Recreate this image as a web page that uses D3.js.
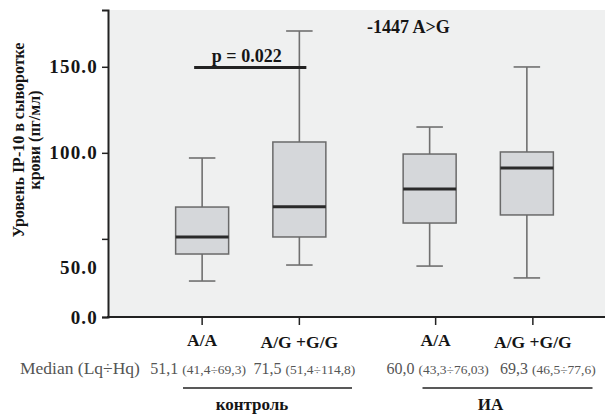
<!DOCTYPE html>
<html>
<head>
<meta charset="utf-8">
<script src="https://cdn.jsdelivr.net/npm/d3@7"></script>
<style>
  body { margin: 0; background: #fff; }
  svg text { font-family: "Liberation Serif", "Times New Roman", serif; }
</style>
</head>
<body>
<div id="chart"></div>
<script>
const groups = ["контроль", "ИА"];
const genotypes = ["A/A", "A/G +G/G"];

// one entry per box: контроль A/A, контроль A/G+G/G, ИА A/A, ИА A/G+G/G
const lowWhisker = [25.5, 34.8, 34.2, 27.3];
const q1 = [41.2, 51.1, 59.2, 63.9];
const medians = [51.1, 68.7, 79.0, 91.2];
const q3 = [68.5, 106.3, 99.3, 100.5];
const highWhisker = [97.0, 170.8, 115.0, 149.9];

const medianLabels = ["51,1", "71,5", "60,0", "69,3"];
const rangeLabels = ["(41,4÷69,3)", "(51,4÷114,8)", "(43,3÷76,03)", "(46,5÷77,6)"];

const yTicks = [50, 100, 150];
const yDomain = [4.6, 183];

const boxes = lowWhisker.map((d, i) => ({
  group: groups[Math.floor(i / 2)],
  genotype: genotypes[i % 2],
  low: d, q1: q1[i], median: medians[i], q3: q3[i], high: highWhisker[i],
  medianLabel: medianLabels[i], rangeLabel: rangeLabels[i]
}));

const width = 605, height = 414;
const plotLeft = 108, plotTop = 10, plotBottom = 317;
const boxWidth = 53;
const serif = "'Liberation Serif', 'Times New Roman', serif";
const ink = "#151515";
const iaShift = [0, 6]; // ticks and labels of the second group sit a bit right of the boxes
const medRowShift = [-4, 5, 8, 21];

const svg = d3.select("#chart").append("svg")
  .attr("width", width)
  .attr("height", height);

const y = d3.scaleLinear().domain(yDomain).range([plotBottom, plotTop]);

const outer = d3.scaleBand().domain(groups).range([137, 592]);
const inner = d3.scalePoint().domain(genotypes).range([0, outer.bandwidth()]).padding(0.67);
const xc = d => outer(d.group) + inner(d.genotype);

// plot background
svg.append("rect")
  .attr("x", plotLeft).attr("y", plotTop)
  .attr("width", width - plotLeft).attr("height", plotBottom - plotTop)
  .attr("fill", "#eff0f0");

// boxes
const box = svg.append("g").selectAll("g.box").data(boxes).enter().append("g").attr("class", "box");

box.append("line")
  .attr("x1", xc).attr("x2", xc)
  .attr("y1", d => y(d.high)).attr("y2", d => y(d.q3))
  .attr("stroke", "#707070").attr("stroke-width", 1.6);
box.append("line")
  .attr("x1", xc).attr("x2", xc)
  .attr("y1", d => y(d.q1)).attr("y2", d => y(d.low))
  .attr("stroke", "#707070").attr("stroke-width", 1.6);
box.append("line")
  .attr("x1", d => xc(d) - boxWidth / 4).attr("x2", d => xc(d) + boxWidth / 4)
  .attr("y1", d => y(d.high)).attr("y2", d => y(d.high))
  .attr("stroke", "#707070").attr("stroke-width", 1.6);
box.append("line")
  .attr("x1", d => xc(d) - boxWidth / 4).attr("x2", d => xc(d) + boxWidth / 4)
  .attr("y1", d => y(d.low)).attr("y2", d => y(d.low))
  .attr("stroke", "#707070").attr("stroke-width", 1.6);
box.append("rect")
  .attr("x", d => xc(d) - boxWidth / 2)
  .attr("y", d => y(d.q3))
  .attr("width", boxWidth)
  .attr("height", d => y(d.q1) - y(d.q3))
  .attr("fill", "#d5d7da")
  .attr("stroke", "#6a6a6a").attr("stroke-width", 1.5);
box.append("line")
  .attr("x1", d => xc(d) - boxWidth / 2).attr("x2", d => xc(d) + boxWidth / 2)
  .attr("y1", d => y(d.median)).attr("y2", d => y(d.median))
  .attr("stroke", "#2a2a2a").attr("stroke-width", 3);

// y axis
const yAxis = d3.axisLeft(y)
  .tickValues([yDomain[0]].concat(yTicks))
  .tickSize(6)
  .tickFormat(v => v === yDomain[0] ? "0.0" : v === 50 ? "" : d3.format(".1f")(v));

const ya = svg.append("g").attr("transform", `translate(${plotLeft},0)`).call(yAxis);
ya.attr("font-family", serif);
ya.select(".domain").attr("stroke", "#222").attr("stroke-width", 2);
ya.selectAll(".tick line").attr("stroke", "#222").attr("stroke-width", 1.5);
ya.selectAll(".tick text")
  .attr("x", -10)
  .attr("font-size", 19).attr("font-weight", "bold").attr("fill", ink)
  .attr("letter-spacing", 1.2)
  .attr("font-family", serif);

// the "50.0" label sits below its tick in the original
svg.append("text")
  .attr("x", plotLeft - 10).attr("y", y(50) + 29).attr("dy", "0.32em")
  .attr("text-anchor", "end")
  .attr("font-family", serif)
  .attr("font-size", 19).attr("font-weight", "bold").attr("fill", ink)
  .attr("letter-spacing", 1.2)
  .text("50.0");

// x axis
svg.append("line")
  .attr("x1", plotLeft - 1).attr("x2", width)
  .attr("y1", plotBottom).attr("y2", plotBottom)
  .attr("stroke", "#222").attr("stroke-width", 2);

const tickX = d => xc(d) + iaShift[groups.indexOf(d.group)];

svg.selectAll("line.xtick").data(boxes).enter().append("line")
  .attr("class", "xtick")
  .attr("x1", tickX).attr("x2", tickX)
  .attr("y1", plotBottom).attr("y2", plotBottom + 8)
  .attr("stroke", "#222").attr("stroke-width", 1.5);

svg.selectAll("text.cat").data(boxes).enter().append("text")
  .attr("class", "cat")
  .attr("x", tickX).attr("y", d => d.genotype === genotypes[0] ? 346 : 348)
  .attr("text-anchor", "middle")
  .attr("font-family", serif)
  .attr("font-size", 17.5).attr("font-weight", "bold").attr("fill", ink)
  .text(d => d.genotype);

// y axis title
const title = svg.append("text")
  .attr("transform", "translate(0,140) rotate(-90)")
  .attr("text-anchor", "middle")
  .attr("font-family", serif)
  .attr("font-size", 16).attr("font-weight", "bold").attr("fill", ink);
title.append("tspan").attr("x", 0).attr("y", 24).text("Уровень IP-10 в сыворотке");
title.append("tspan").attr("x", 0).attr("y", 40).text("крови (пг/мл)");

// significance bar
svg.append("line")
  .attr("x1", xc(boxes[0]) - 8).attr("x2", xc(boxes[1]) + 7)
  .attr("y1", y(149.6)).attr("y2", y(149.6))
  .attr("stroke", "#222").attr("stroke-width", 3);
svg.append("text")
  .attr("x", (xc(boxes[0]) + xc(boxes[1])) / 2 - 4).attr("y", 62)
  .attr("text-anchor", "middle")
  .attr("font-family", serif)
  .attr("font-size", 18).attr("font-weight", "bold").attr("fill", ink)
  .text("p = 0.022");

svg.append("text")
  .attr("x", 367).attr("y", 33)
  .attr("font-family", serif)
  .attr("font-size", 18).attr("font-weight", "bold").attr("fill", ink)
  .text("-1447 A>G");

// median row
svg.append("text")
  .attr("x", 20).attr("y", 374)
  .attr("font-family", serif)
  .attr("font-size", 17.5).attr("fill", "#555")
  .text("Median (Lq÷Hq)");

const mt = svg.selectAll("text.med").data(boxes).enter().append("text")
  .attr("class", "med")
  .attr("x", (d, i) => xc(d) + medRowShift[i]).attr("y", 374)
  .attr("text-anchor", "middle")
  .attr("font-family", serif)
  .attr("fill", "#555");
mt.append("tspan").attr("font-size", 16).text(d => d.medianLabel + " ");
mt.append("tspan").attr("font-size", 13.5).text(d => d.rangeLabel);

// group brackets
svg.selectAll("line.grp").data(groups).enter().append("line")
  .attr("class", "grp")
  .attr("x1", (d, i) => outer(d) + 46 + 12 * i).attr("x2", (d, i) => outer(d) + 215 + 13 * i)
  .attr("y1", 388).attr("y2", 388)
  .attr("stroke", "#222").attr("stroke-width", 1.6);

svg.selectAll("text.grp").data(groups).enter().append("text")
  .attr("class", "grp")
  .attr("x", (d, i) => outer(d) + 115 + 11 * i).attr("y", 410)
  .attr("text-anchor", "middle")
  .attr("font-family", serif)
  .attr("font-size", 17).attr("font-weight", "bold").attr("fill", ink)
  .text(d => d);
</script>
</body>
</html>
